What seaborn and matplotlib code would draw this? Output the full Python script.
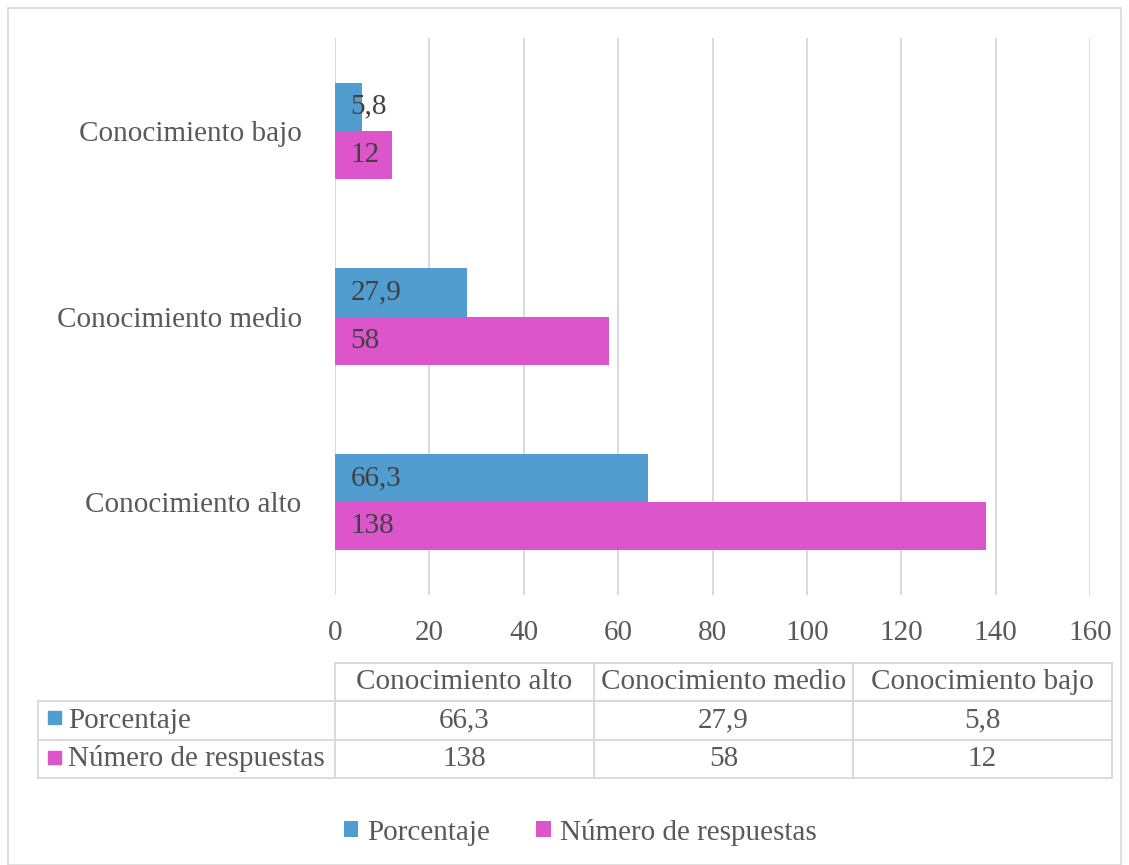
import matplotlib
matplotlib.use('Agg')
import matplotlib.pyplot as plt
import numpy as np
import pandas as pd
import seaborn as sns
from matplotlib.patches import Rectangle, Patch

# Data
categorias = ['Conocimiento bajo', 'Conocimiento medio', 'Conocimiento alto']
series = ['Porcentaje', 'Número de respuestas']
porcentaje = [5.8, 27.9, 66.3]
respuestas = [12, 58, 138]
xticks = [0, 20, 40, 60, 80, 100, 120, 140, 160]

colores = ['#529DD0', '#DC55CB']
gris_txt = '#595959'
gris_lin = '#D9D9D9'


def fmt(v):
    return f'{v:g}'.replace('.', ',')


df = pd.DataFrame({
    'categoria': categorias * 2,
    'serie': [series[0]] * 3 + [series[1]] * 3,
    'valor': porcentaje + respuestas,
})

sns.set_style('white')
plt.rcParams['font.family'] = ['Liberation Serif', 'DejaVu Serif']
FS = 21

fig = plt.figure(figsize=(11.29, 8.65), dpi=100)
W, H = 1129, 865

# frame around the whole chart
fig.patches.append(Rectangle((8 / W, 0), (1121 - 8) / W, 1 - 8 / H,
                             transform=fig.transFigure, fill=False,
                             edgecolor=gris_lin, lw=1.2))

ax = fig.add_axes([335 / W, 1 - 595 / H, (1090 - 335) / W, (595 - 38) / H])
sns.barplot(data=df, y='categoria', x='valor', hue='serie', order=categorias,
            hue_order=series, palette=colores, width=0.52, saturation=1,
            errorbar=None, orient='h', legend=False, linewidth=0, ax=ax)

ax.set_xlim(0, 160)
ax.set_xticks(xticks)
ax.set_xticklabels([str(t) for t in xticks])
ax.grid(axis='x', color=gris_lin, lw=1.4)
ax.set_axisbelow(True)
for s in ax.spines.values():
    s.set_visible(False)
ax.tick_params(axis='x', length=0, pad=18, labelsize=FS, labelcolor=gris_txt)
ax.tick_params(axis='y', length=0, pad=24, labelsize=FS, labelcolor=gris_txt)
ax.set_xlabel('')
ax.set_ylabel('')

# value labels at the bar base
valores = [porcentaje, respuestas]
for cont, vals in zip(ax.containers, valores):
    for rect, v in zip(cont, vals):
        ax.annotate(fmt(v), (0, rect.get_y() + rect.get_height() / 2),
                    xytext=(11, 0), textcoords='offset points',
                    ha='left', va='center', fontsize=FS, color='#404040')

# data table
orden_tabla = categorias[::-1]
tax = fig.add_axes([38 / W, 1 - 778 / H, (1112 - 38) / W, (778 - 663) / H])
tax.set_xlim(38, 1112)
tax.set_ylim(778, 663)
tax.axis('off')
filas = [[''] + orden_tabla,
         [series[0]] + [fmt(porcentaje[categorias.index(c)]) for c in orden_tabla],
         [series[1]] + [fmt(respuestas[categorias.index(c)]) for c in orden_tabla]]
anchos = np.array([297, 259, 259, 259]) / 1074
tabla = tax.table(cellText=filas, colWidths=list(anchos), bbox=[0, 0, 1, 1],
                  cellLoc='center')
tabla.auto_set_font_size(False)
for (r, c), cell in tabla.get_celld().items():
    cell.set_edgecolor(gris_lin)
    cell.set_linewidth(1.4)
    cell.get_text().set_fontsize(FS)
    cell.get_text().set_color(gris_txt)
    if r == 0 and c == 0:
        cell.visible_edges = ''
    if c == 0 and r > 0:
        cell._loc = 'left'
        cell.PAD = 30 / 297
        cell.get_text().set_ha('left')
for i, col in enumerate(colores):
    yc = 718 + i * 40
    tax.add_patch(Rectangle((48, yc - 7), 13, 13, color=col, clip_on=False))

# legend
handles = [Patch(facecolor=c, edgecolor='none') for c in colores]
fig.legend(handles, series, loc='center', bbox_to_anchor=(580 / W, 1 - 832 / H),
           ncol=2, frameon=False, fontsize=FS, labelcolor=gris_txt,
           handlelength=0.5, handleheight=0.5, handletextpad=0.3,
           columnspacing=1.6)

fig.savefig('out.png', dpi=100)
